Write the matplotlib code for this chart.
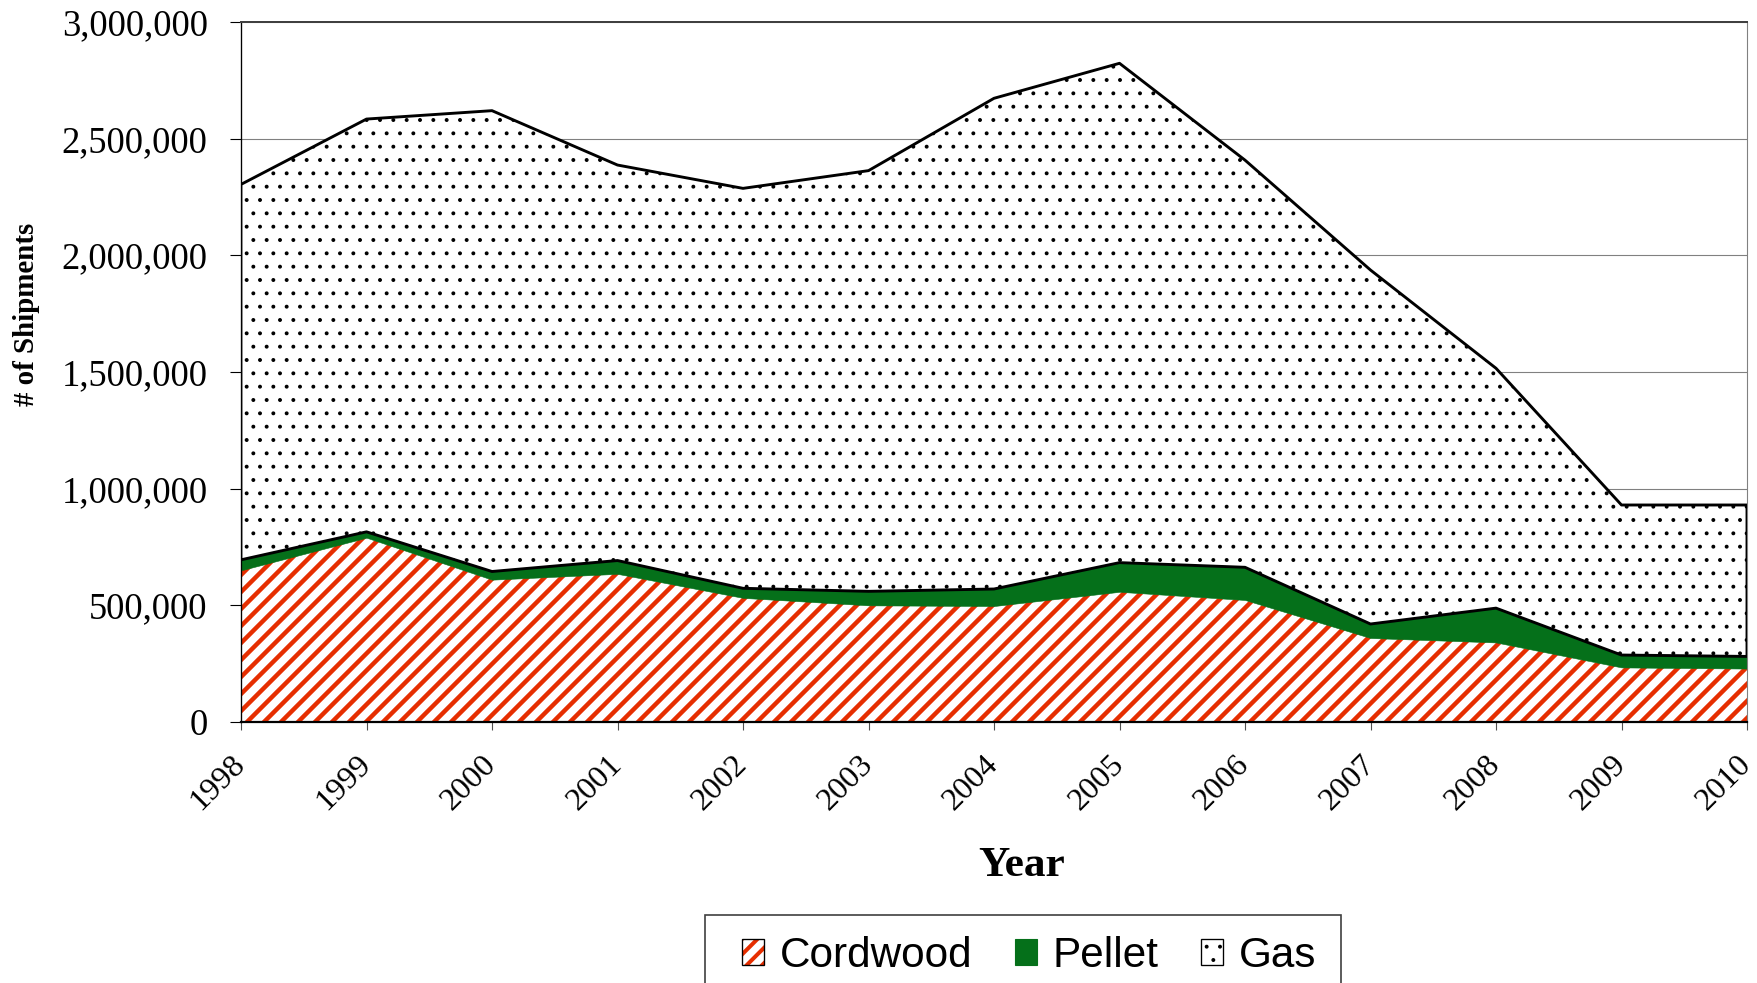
import matplotlib
matplotlib.use('Agg')
import matplotlib.pyplot as plt
import numpy as np
from matplotlib.patches import Patch, Rectangle
from matplotlib.lines import Line2D
from matplotlib.collections import LineCollection
from matplotlib.transforms import IdentityTransform
from matplotlib.legend_handler import HandlerTuple, HandlerBase
from matplotlib.ticker import FuncFormatter

#%% Data

years = [1998, 1999, 2000, 2001, 2002, 2003, 2004, 2005, 2006, 2007, 2008, 2009, 2010]
year_labels = [str(y) for y in years]
cordwood = [650000, 790000, 610000, 635000, 532000, 500000, 497000, 558000, 523000, 360000, 341000, 234000, 229000]
pellet = [45000, 25000, 35000, 57000, 41000, 60000, 73000, 125000, 140000, 60000, 147000, 53000, 52000]
gas = [1609000, 1769000, 1975000, 1695000, 1714000, 1803000, 2103000, 2140000, 1745000, 1517000, 1028000, 643000, 649000]
series_names = ['Cordwood', 'Pellet', 'Gas']
y_ticks = [0, 500000, 1000000, 1500000, 2000000, 2500000, 3000000]

red = '#E62E00'
green = '#05701A'

#%% Figure set-up

plt.rcParams['font.family'] = 'Liberation Serif'
plt.rcParams['hatch.linewidth'] = 1.1  # dots of the gas layer

dpi = 80
W, H = 1757, 983
fig = plt.figure(figsize=(W / dpi, H / dpi), dpi=dpi)
ax = fig.add_axes([241 / W, 1 - 722 / H, (1747 - 241) / W, 700 / H])

x = np.array(years)
top_cord = np.array(cordwood)
top_pellet = top_cord + np.array(pellet)
top_gas = top_pellet + np.array(gas)

#cordwood: white area with thick red diagonal stripes clipped to it
cw = ax.fill_between(x, 0, top_cord, facecolor='white', edgecolor='none',
                     linewidth=0, zorder=2)
step = 17  # stripe spacing in pixels
stripes = [[(c, 0), (c + H, H)] for c in range(-H, W, step)]
stripe_lines = LineCollection(stripes, colors=red, linewidths=4.0,
                              transform=IdentityTransform(), zorder=2.1)
ax.add_collection(stripe_lines, autolim=False)
stripe_lines.set_clip_path(cw.get_paths()[0], ax.transData)

ax.fill_between(x, top_cord, top_pellet, facecolor=green, edgecolor=green,
                linewidth=0.5, zorder=2.2)

ax.fill_between(x, top_pellet, top_gas, facecolor='white', edgecolor='black',
                hatch='.', linewidth=2.6, zorder=3)

#%% Axes styling

ax.set_xlim(years[0], years[-1])
ax.set_ylim(0, 3000000)
ax.set_axisbelow(True)
ax.yaxis.grid(True, color='#808080', linewidth=1.0)

ax.set_yticks(y_ticks)
ax.yaxis.set_major_formatter(FuncFormatter(lambda v, p: '{:,.0f}'.format(v)))
ax.tick_params(axis='y', length=10, width=1, pad=20, labelsize=33, direction='out')

ax.set_xticks(years)
ax.set_xticklabels(year_labels, rotation=45, ha='right', va='center', rotation_mode='anchor')
ax.tick_params(axis='x', length=7, width=1, pad=27, labelsize=29, direction='out',
               color='#505050')

ax.spines['left'].set_color('black')
ax.spines['left'].set_linewidth(1.2)
ax.spines['bottom'].set_color('black')
ax.spines['bottom'].set_linewidth(2.0)
ax.spines['top'].set_color('#404040')
ax.spines['top'].set_linewidth(1.8)
ax.spines['right'].set_color('#808080')
ax.spines['right'].set_linewidth(1.0)

fig.text(27 / W, 1 - 314 / H, '# of Shipments', rotation=90, ha='center', va='center',
         fontsize=26, fontweight='bold')
fig.text(1022 / W, 1 - 876 / H, 'Year', ha='center', va='baseline',
         fontsize=39, fontweight='bold')

#%% Legend

class StripeHandler(HandlerBase):
    def create_artists(self, legend, orig_handle, xdescent, ydescent,
                       width, height, fontsize, trans):
        x0, y0 = -xdescent, -ydescent
        back = Rectangle((x0, y0), width, height, facecolor='white',
                         edgecolor='none', transform=trans)
        out = [back]
        sp = width * 0.7
        for off in np.arange(-height, width + sp, sp):
            ln = Line2D([x0 + off, x0 + off + height], [y0, y0 + height],
                        color=red, linewidth=3.6, transform=trans)
            ln.set_clip_path(back)
            out.append(ln)
        out.append(Rectangle((x0, y0), width, height, facecolor='none',
                             edgecolor='black', linewidth=1.2, transform=trans))
        return out

border = dict(facecolor='none', edgecolor='black', linewidth=1.2)
cw_handle = Patch(facecolor='white', edgecolor=red)
gas_handle = (Patch(facecolor='white', edgecolor='black', hatch='.', linewidth=0),
              Patch(**border))
handles = [cw_handle, Patch(facecolor=green, edgecolor=green), gas_handle]
leg = fig.legend(handles, series_names, loc='upper center',
                 bbox_to_anchor=(1029 / W, 1 - 936 / H), ncol=3,
                 frameon=False,
                 prop={'family': 'Liberation Sans', 'size': 38},
                 handlelength=0.52, handleheight=0.55, handletextpad=0.38,
                 columnspacing=1.0, borderpad=0, borderaxespad=0,
                 handler_map={tuple: HandlerTuple(ndivide=1, pad=0),
                              cw_handle: StripeHandler()})

#legend frame, running off the bottom edge like in the original
fig.patches.append(Rectangle((705 / W, 1 - 1000 / H), (1341 - 705) / W, (1000 - 915) / H,
                             transform=fig.transFigure, facecolor='none',
                             edgecolor='#404040', linewidth=1.5))

plt.savefig('out.png', dpi=dpi)
plt.close()
